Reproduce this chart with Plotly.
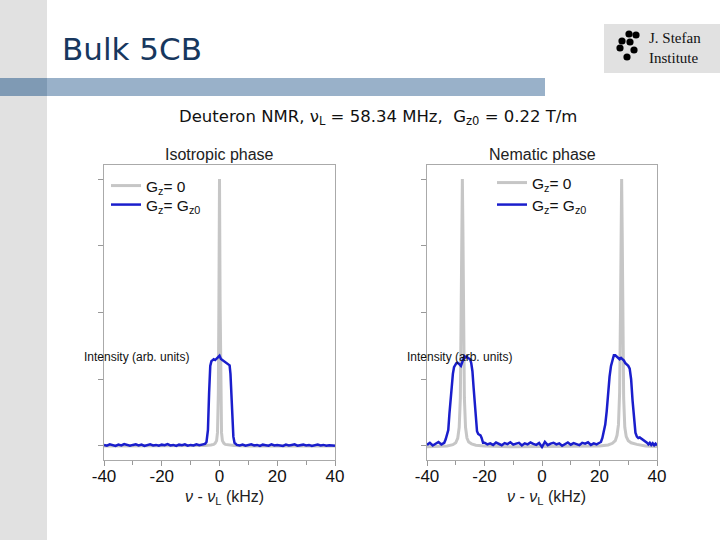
import plotly.graph_objects as go

W, H = 720, 540

# ---------------- data ----------------
# Isotropic phase, Gz = 0 (gray)
iso_gray_x = [-40, -30, -20, -10, -5, -3, -2, -1.5, -1, -0.7, -0.4, -0.2, 0,
              0.2, 0.4, 0.7, 1, 1.5, 2, 3, 5, 10, 20, 30, 40]
iso_gray_y = [0.0, 0.0, 0.001, 0.0, 0.002, 0.004, 0.006, 0.01, 0.02, 0.05, 0.2, 0.55, 1.0,
              0.55, 0.2, 0.05, 0.02, 0.01, 0.006, 0.004, 0.002, 0.0, 0.001, 0.0, 0.0]

# Isotropic phase, Gz = Gz0 (blue)
iso_blue_x = [-40, -39, -38, -37, -36, -35, -34, -33, -32, -31, -30, -29, -28, -27, -26, -25,
              -24, -23, -22, -21, -20, -19, -18, -17, -16, -15, -14, -13, -12, -11, -10, -9,
              -8, -7, -6, -5,
              -4.5, -4, -3.6, -3.2, -2.8, -2.4, -2, -1.5, -1, -0.5, 0, 0.5, 1, 1.5, 2, 2.5,
              3, 3.5, 3.8, 4.1, 4.4, 4.8, 5.2, 5.6,
              6, 7, 8, 9, 10, 11, 12, 13, 14, 15, 16, 17, 18, 19, 20, 21, 22, 23, 24, 25,
              26, 27, 28, 29, 30, 31, 32, 33, 34, 35, 36, 37, 38, 39, 40]
iso_blue_y = [0.004, 0.001, 0.006, 0.003, 0.0, 0.005, 0.002, 0.007, 0.003, 0.001, 0.004, 0.006,
              0.002, 0.005, 0.0, 0.003, 0.006, 0.002, 0.004, 0.001, 0.005, 0.003, 0.007, 0.002,
              0.004, 0.0, 0.005, 0.003, 0.006, 0.001, 0.004, 0.002, 0.006, 0.003, 0.005, 0.008,
              0.015, 0.06, 0.2, 0.3, 0.318, 0.322, 0.325, 0.322, 0.328, 0.332, 0.338, 0.326,
              0.322, 0.318, 0.315, 0.31, 0.306, 0.302, 0.27, 0.18, 0.09, 0.035, 0.012, 0.006,
              0.004, 0.002, 0.005, 0.001, 0.003, 0.006, 0.002, 0.004, 0.0, 0.005, 0.003, 0.001,
              0.006, 0.002, 0.004, 0.003, 0.0, 0.005, 0.002, 0.004, 0.006, 0.001, 0.003, 0.005,
              0.002, 0.004, 0.0, 0.003, 0.005, 0.002, 0.004, 0.001, 0.003, 0.002, 0.001]

# Nematic phase, Gz = 0 (gray)
nem_gray_x = [-40, -36, -33, -31, -30, -29.3, -28.8, -28.4, -28.1, -27.9, -27.7, -27.5, -27.3,
              -27, -26.6, -26.1, -25.5, -24.5, -23, -20, -10, 0, 10, 20, 23, 24.5, 25.5, 26.1,
              26.6, 27, 27.3, 27.5, 27.7, 27.9, 28.1, 28.4, 28.8, 29.3, 30, 31, 33, 36, 40]
nem_gray_y = [-0.003, -0.002, 0.0, 0.005, 0.012, 0.03, 0.07, 0.18, 0.45, 0.8, 1.0, 0.8, 0.45,
              0.18, 0.07, 0.03, 0.015, 0.008, 0.003, 0.0, -0.003, -0.002, -0.003, 0.0, 0.004,
              0.01, 0.02, 0.04, 0.08, 0.2, 0.5, 0.82, 1.0, 0.8, 0.45, 0.18, 0.07, 0.035, 0.02,
              0.012, 0.006, 0.0, -0.002]

# Nematic phase, Gz = Gz0 (blue)
nem_blue_x = [-40, -39, -38, -37, -36, -35, -34, -33.5, -33,
              -32.6, -32.2, -31.8, -31.4, -31, -30.6, -30.2, -29.8, -29.4, -29, -28.6, -28.2,
              -27.8, -27.4, -27, -26.6, -26.2, -25.8, -25.4, -25, -24.6, -24.2, -23.8, -23.4,
              -23, -22.6, -22.2, -21.8, -21.4, -21, -20.5,
              -20, -19, -18, -17, -16, -15, -14, -13, -12, -11, -10, -9, -8, -7, -6, -5, -4,
              -3, -2, -1, 0, 1, 2, 3, 4, 5, 6, 7, 8, 9, 10, 11, 12, 13, 14, 15, 16, 17, 18, 19, 20,
              20.5, 21, 21.5, 22, 22.5, 23, 23.5, 24, 24.5, 25, 25.5, 26, 26.5, 27, 27.5, 28,
              28.5, 29, 29.5, 30, 30.5, 31, 31.5, 32, 32.5,
              33, 33.5, 34, 34.5, 35, 35.5, 36, 36.5, 37, 37.5, 38, 38.5, 39, 39.5, 40]
nem_blue_y = [0.004, 0.012, 0.002, 0.010, 0.015, 0.006, 0.012, 0.025, 0.04,
              0.06, 0.12, 0.18, 0.23, 0.27, 0.295, 0.305, 0.31, 0.312, 0.31, 0.305, 0.30,
              0.315, 0.33, 0.336, 0.332, 0.335, 0.33, 0.328, 0.325, 0.31, 0.28, 0.22, 0.15,
              0.09, 0.055, 0.045, 0.042, 0.04, 0.03, 0.012,
              0.012, 0.006, 0.010, 0.004, 0.013, 0.008, 0.003, 0.011, 0.007, 0.014, 0.005,
              0.009, 0.012, 0.002, 0.010, 0.006, 0.013, 0.008, 0.004, 0.011, -0.004, 0.015,
              0.003, 0.009, 0.012, 0.006, 0.010, 0.001, 0.008, 0.013, 0.005, 0.011, 0.007,
              0.003, 0.012, 0.009, 0.014, 0.004, 0.010, 0.006, 0.012,
              0.015, 0.03, 0.05, 0.08, 0.13, 0.2, 0.26, 0.3, 0.325, 0.34, 0.34, 0.335, 0.33,
              0.325, 0.33, 0.325, 0.32, 0.31, 0.305, 0.30, 0.29, 0.25, 0.17, 0.09, 0.05,
              0.035, 0.03, 0.032, 0.028, 0.025, 0.022, 0.018, 0.012, 0.006, 0.012, 0.004,
              0.010, 0.003, 0.009, 0.002]

x_tickvals = [-40, -20, 0, 20, 40]
x_ticktext = ["-40", "-20", "0", "20", "40"]
y_tickvals = [0, 0.25, 0.5, 0.75, 1.0]

panel_titles = ["Isotropic phase", "Nematic phase"]
legend_names = ["G<sub>z</sub>= 0", "G<sub>z</sub>= G<sub>z0</sub>"]
x_title = "<i>ν</i> - <i>ν</i><sub>L</sub> (kHz)"
y_label = "Intensity (arb. units)"
slide_title = "Bulk 5CB"
subtitle = "Deuteron NMR, ν<sub>L</sub> = 58.34 MHz,  G<sub>z0</sub> = 0.22 T/m"

GRAY = "#c6c6c6"
BLUE = "#1a1ecc"

def px(x):
    return x / W

def py(y):
    return 1 - y / H

fig = go.Figure()

fig.add_trace(go.Scatter(x=iso_gray_x, y=iso_gray_y, mode="lines", name=legend_names[0],
                         line=dict(color=GRAY, width=3), xaxis="x", yaxis="y", legend="legend"))
fig.add_trace(go.Scatter(x=iso_blue_x, y=iso_blue_y, mode="lines", name=legend_names[1],
                         line=dict(color=BLUE, width=2.5), xaxis="x", yaxis="y", legend="legend2"))
fig.add_trace(go.Scatter(x=nem_gray_x, y=nem_gray_y, mode="lines", name=legend_names[0],
                         line=dict(color=GRAY, width=3), xaxis="x2", yaxis="y2", legend="legend3"))
fig.add_trace(go.Scatter(x=nem_blue_x, y=nem_blue_y, mode="lines", name=legend_names[1],
                         line=dict(color=BLUE, width=2.5), xaxis="x2", yaxis="y2", legend="legend4"))

ydom = [py(460), py(165)]
xdom1 = [px(104), px(335)]
xdom2 = [px(427), px(657)]

tickfont = dict(family="Liberation Sans, Arial", size=17, color="#111")

def xaxis(dom, anchor):
    return dict(domain=dom, anchor=anchor, range=[-40, 40], tickvals=x_tickvals,
                ticktext=x_ticktext, ticks="outside", ticklen=5, tickcolor="#999",
                minor=dict(tickvals=[-30, -10, 10, 30], ticks="outside", ticklen=4,
                           tickcolor="#999"),
                showline=True, linecolor="#aaaaaa", linewidth=1, mirror=True,
                showgrid=False, zeroline=False, tickfont=tickfont, automargin=False,
                ticklabelstandoff=-4)

def yaxis(anchor):
    return dict(domain=ydom, anchor=anchor, range=[-0.0525, 1.0525], tickvals=y_tickvals,
                showticklabels=False, ticks="outside", ticklen=5, tickcolor="#999",
                showline=True, linecolor="#aaaaaa", linewidth=1, mirror=True,
                showgrid=False, zeroline=False, automargin=False)

legfont = dict(family="Liberation Sans, Arial", size=15.5, color="#111")

def leg(xp, yp):
    return dict(x=px(xp), y=py(yp), xanchor="left", yanchor="middle",
                bgcolor="rgba(0,0,0,0)", font=legfont, itemwidth=30, borderwidth=0)

shapes = [
    dict(type="rect", xref="paper", yref="paper", x0=0, x1=px(47), y0=0, y1=1,
         fillcolor="#e1e1e1", line=dict(width=0), layer="below"),
    dict(type="rect", xref="paper", yref="paper", x0=0, x1=px(545), y0=py(96), y1=py(78),
         fillcolor="#99b1c9", line=dict(width=0), layer="below"),
    dict(type="rect", xref="paper", yref="paper", x0=0, x1=px(47), y0=py(96), y1=py(78),
         fillcolor="#7f9ab4", line=dict(width=0), layer="below"),
    dict(type="rect", xref="paper", yref="paper", x0=px(604), x1=1, y0=py(73), y1=py(24),
         fillcolor="#e1e1e1", line=dict(width=0), layer="below"),
]
# logo dots
for (cx, cy) in [(629, 34), (636, 35), (622, 41), (630, 42), (620, 48), (634, 50), (627, 57)]:
    r = 3.6
    shapes.append(dict(type="circle", xref="paper", yref="paper",
                       x0=px(cx - r), x1=px(cx + r), y0=py(cy + r), y1=py(cy - r),
                       fillcolor="#000", line=dict(width=0)))

annotations = [
    dict(text=slide_title, x=px(60), y=py(49), xref="paper", yref="paper", xanchor="left",
         yanchor="middle", showarrow=False,
         font=dict(family="DejaVu Sans", size=31, color="#17375e")),
    dict(text=subtitle, x=px(378), y=py(117), xref="paper", yref="paper", xanchor="center",
         yanchor="middle", showarrow=False,
         font=dict(family="DejaVu Sans", size=16.5, color="#111")),
    dict(text="J. Stefan<br>Institute", x=px(647), y=py(48), xref="paper", yref="paper",
         xanchor="left", yanchor="middle", align="left", showarrow=False,
         font=dict(family="Liberation Serif", size=15, color="#111")),
]
for i, (xd, title) in enumerate(zip([xdom1, xdom2], panel_titles)):
    xr = "x domain" if i == 0 else "x2 domain"
    annotations.append(dict(text=title, x=0.5, y=py(154), xref=xr, yref="paper",
                            xanchor="center", yanchor="middle", showarrow=False,
                            font=dict(family="Liberation Sans, Arial", size=16, color="#222")))
    annotations.append(dict(text=x_title, x=0.52, y=py(497), xref=xr, yref="paper",
                            xanchor="center", yanchor="middle", showarrow=False,
                            font=dict(family="Liberation Sans, Arial", size=16, color="#222")))
annotations.append(dict(text=y_label, x=px(136), y=py(357), xref="paper", yref="paper",
                        xanchor="center", yanchor="middle", showarrow=False,
                        font=dict(family="Liberation Sans, Arial", size=12, color="#111")))
annotations.append(dict(text=y_label, x=px(460), y=py(357), xref="paper", yref="paper",
                        xanchor="center", yanchor="middle", showarrow=False,
                        font=dict(family="Liberation Sans, Arial", size=12, color="#111")))

fig.update_layout(
    width=W, height=H, margin=dict(l=0, r=0, t=0, b=0, pad=0, autoexpand=False),
    paper_bgcolor="white", plot_bgcolor="rgba(0,0,0,0)",
    xaxis=xaxis(xdom1, "y"), yaxis=yaxis("x"),
    xaxis2=xaxis(xdom2, "y2"), yaxis2=yaxis("x2"),
    legend=leg(106, 186), legend2=leg(106, 205),
    legend3=leg(492, 183), legend4=leg(492, 205),
    shapes=shapes, annotations=annotations, showlegend=True,
)

fig.write_html("out.html", config={"displayModeBar": False},
               post_script="document.body.style.margin='0';"
                           "document.body.style.padding='0';"
                           "document.documentElement.style.overflow='hidden';"
                           "document.body.style.overflow='hidden';")
